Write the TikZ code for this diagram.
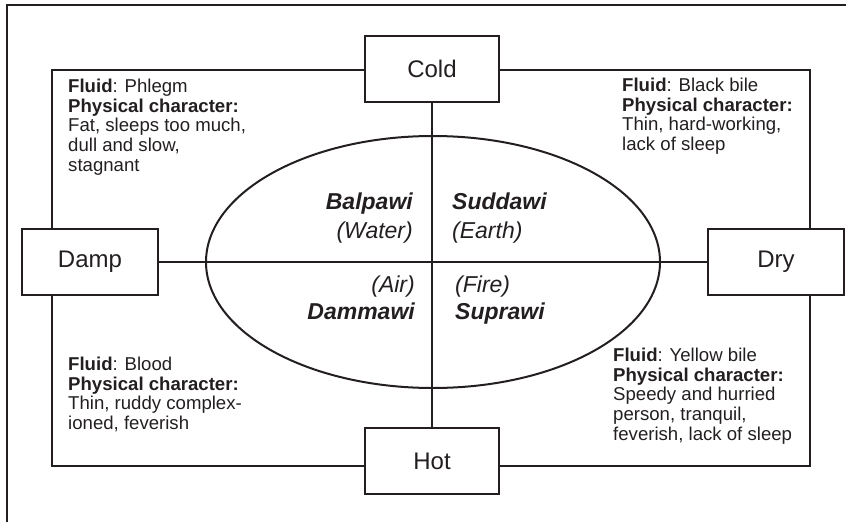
\documentclass[tikz,border=0pt]{standalone}
\usepackage{fontspec}
\setmainfont{Liberation Sans}
\usetikzlibrary{backgrounds}
\definecolor{ink}{RGB}{35,31,32}
\begin{document}
\begin{tikzpicture}[x=1pt,y=-1pt,
  line/.style={draw=ink, line width=2pt},
  frame/.style={draw=ink, line width=2.6pt},
  lbl/.style={draw=ink, fill=white, line width=2pt, minimum width=134pt, minimum height=66pt,
    inner sep=0pt, text=ink, font=\fontsize{24}{28}\selectfont},
  info/.style={align=left, inner sep=0pt, text=ink, anchor=north west,
    font=\fontsize{18.6}{19.6}\selectfont},
  elem/.style={inner sep=0pt, text=ink, font=\fontsize{23}{27}\selectfont\itshape},
  elemb/.style={inner sep=0pt, text=ink, font=\fontsize{23}{27}\selectfont\bfseries\itshape}]
\useasboundingbox (0,0) rectangle (846,522);
% outer frame
\coordinate (fb) at (7,522);
\coordinate (fc) at (7,5);
\coordinate (fr) at (847,5);
\draw[frame] (fb) -- (fc) -- (fr);
% label boxes
\node[lbl] (cold) at (432,69) {Cold};
\node[lbl] (hot) at (432,461) {Hot};
\node[lbl, minimum width=136pt] (damp) at (90,262) {Damp};
\node[lbl, minimum width=136pt] (dry) at (776,262) {Dry};
% inner frame, cross and ellipse behind the boxes
\coordinate (r1) at (52,70);
\coordinate (r2) at (810,466);
\coordinate (ec) at (433,262);
\begin{scope}[on background layer]
\draw[line] (r1) rectangle (r2);
\draw[line] (cold) -- (hot);
\draw[line] (damp) -- (dry);
\draw[line] (ec) ellipse [x radius=227pt, y radius=126pt];
\end{scope}
% element labels
\node[elemb, anchor=base east] (balpawi) at (413,209) {Balpawi};
\node[elem, anchor=base east] (water) at (413,238) {(Water)};
\node[elemb, anchor=base west] (suddawi) at (452,209) {Suddawi};
\node[elem, anchor=base west] (earth) at (452,238) {(Earth)};
\node[elem, anchor=base east] (air) at (415,292) {(Air)};
\node[elemb, anchor=base east] (dammawi) at (415,319) {Dammawi};
\node[elem, anchor=base west] (fire) at (455,292) {(Fire)};
\node[elemb, anchor=base west] (suprawi) at (455,319) {Suprawi};
% text blocks
\node[info] (tl) at (68,79) {\textbf{Fluid}: Phlegm\\\textbf{Physical character:}\\Fat, sleeps too much,\\dull and slow,\\stagnant};
\node[info] (tr) at (622,78) {\textbf{Fluid}: Black bile\\\textbf{Physical character:}\\Thin, hard-working,\\lack of sleep};
\node[info] (bl) at (68,357) {\textbf{Fluid}: Blood\\\textbf{Physical character:}\\Thin, ruddy complex-\\ioned, feverish};
\node[info] (br) at (613,348) {\textbf{Fluid}: Yellow bile\\\textbf{Physical character:}\\Speedy and hurried\\person, tranquil,\\feverish, lack of sleep};
\end{tikzpicture}
\end{document}
